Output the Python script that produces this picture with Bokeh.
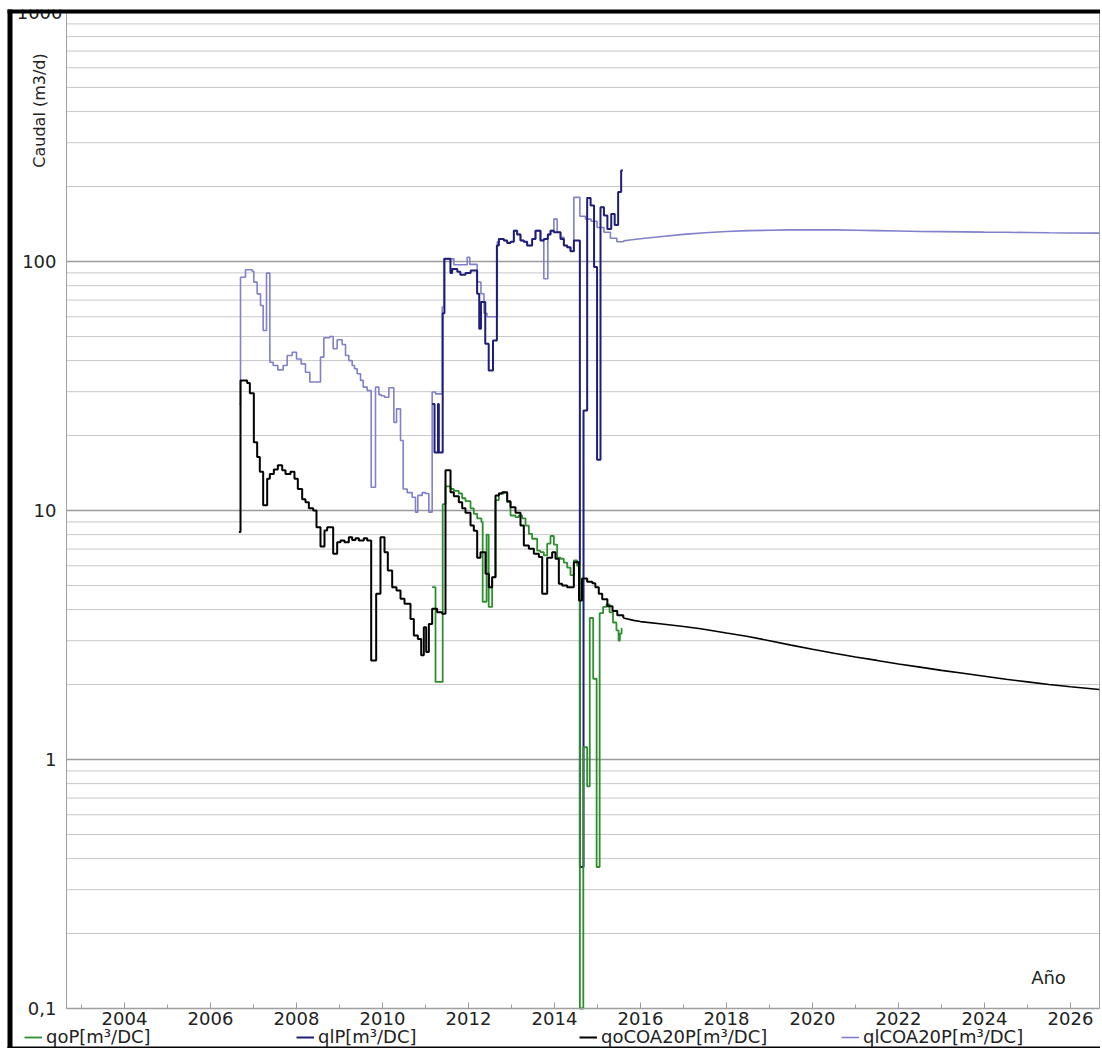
import math
from bokeh.plotting import figure
from bokeh.models import (FixedTicker, Label, Legend, LegendItem, BoxAnnotation,
                          Range1d, CustomJSTickFormatter)
from bokeh.embed import file_html
from bokeh.resources import INLINE

# ---------------- data (year, rate m3/d) ----------------
qlcoa_hist = [
    (2006.670, 26.8), (2006.698, 86.5), (2006.814, 92.6), (2006.969, 91.4), (2007.008, 82.6),
    (2007.085, 74.1), (2007.163, 66.6), (2007.225, 52.8), (2007.303, 89.8), (2007.380, 39.4),
    (2007.458, 38.2), (2007.566, 36.7), (2007.690, 38.2), (2007.783, 41.9), (2007.900, 43.2),
    (2008.000, 40.6), (2008.109, 38.8), (2008.209, 35.9), (2008.310, 32.8), (2008.558, 41.3),
    (2008.636, 49.4), (2008.775, 50.0), (2008.853, 44.6), (2008.946, 48.5), (2009.062, 46.4),
    (2009.140, 41.9), (2009.217, 40.0), (2009.295, 38.2), (2009.349, 37.1), (2009.411, 35.4),
    (2009.489, 33.3), (2009.551, 31.3), (2009.644, 30.3), (2009.737, 12.4), (2009.837, 31.3),
    (2009.915, 29.2), (2009.969, 28.9), (2010.047, 28.5), (2010.148, 31.1), (2010.264, 22.6),
    (2010.326, 25.6), (2010.419, 19.1), (2010.481, 12.2), (2010.574, 11.8), (2010.690, 11.3),
    (2010.768, 9.85), (2010.822, 11.5), (2010.923, 11.8), (2011.000, 11.7), (2011.078, 9.85),
    (2011.155, 29.9), (2011.233, 29.4), (2011.390, 65.6), (2011.430, 102.5), (2011.660, 97.0),
    (2011.970, 104.0), (2012.030, 97.4), (2012.200, 82.7), (2012.290, 74.2), (2012.360, 62.0),
    (2012.430, 60.0), (2012.670, 120.0), (2012.706, 123.0), (2012.822, 121.5), (2012.900, 118.7),
    (2012.977, 120.0), (2013.054, 133.0), (2013.132, 128.5), (2013.209, 121.5), (2013.287, 120.0),
    (2013.364, 116.0), (2013.480, 123.0), (2013.558, 133.0), (2013.674, 121.5), (2013.752, 85.2),
    (2013.845, 128.5), (2013.907, 133.0), (2013.985, 148.0), (2014.062, 131.0), (2014.140, 125.0),
    (2014.217, 116.0), (2014.295, 114.0), (2014.372, 110.0), (2014.450, 181.0), (2014.590, 152.0),
    (2014.720, 148.0), (2014.850, 145.0), (2014.990, 137.0), (2015.150, 131.0), (2015.300, 124.0),
    (2015.450, 120.0), (2015.600, 121.0),
]
qlcoa_forecast = [
    (2015.60, 121.0), (2015.75, 122.0), (2016.0, 123.5), (2016.5, 126.0), (2017.0, 128.5),
    (2017.5, 130.5), (2018.0, 132.0), (2018.5, 133.0), (2019.0, 133.5), (2019.5, 134.0),
    (2020.0, 134.0), (2020.5, 134.0), (2021.0, 133.5), (2021.5, 133.0), (2022.0, 132.5),
    (2022.5, 132.0), (2023.0, 131.8), (2023.5, 131.5), (2024.0, 131.2), (2024.5, 131.0),
    (2025.0, 130.7), (2025.5, 130.4), (2026.0, 130.2), (2026.67, 130.0),
]
qlp_obs = [
    (2011.155, 26.8), (2011.210, 17.1), (2011.290, 26.8), (2011.310, 17.1), (2011.400, 62.0),
    (2011.440, 102.6), (2011.580, 89.9), (2011.620, 93.2), (2011.740, 91.0), (2011.810, 88.4),
    (2011.930, 89.9), (2012.050, 92.0), (2012.200, 74.2), (2012.250, 53.7), (2012.290, 68.7),
    (2012.390, 46.7), (2012.470, 36.5), (2012.570, 48.2), (2012.660, 116.0), (2012.706, 123.0),
    (2012.822, 121.5), (2012.900, 118.7), (2012.977, 120.0), (2013.054, 133.0), (2013.132, 128.5),
    (2013.209, 121.5), (2013.287, 120.0), (2013.364, 116.0), (2013.480, 123.0), (2013.558, 133.0),
    (2013.674, 121.5), (2013.752, 123.0), (2013.845, 128.5), (2013.907, 133.0), (2013.985, 131.0),
    (2014.062, 131.0), (2014.140, 123.0), (2014.217, 116.0), (2014.295, 114.0), (2014.372, 110.0),
    (2014.450, 121.5), (2014.590, 0.37), (2014.675, 25.2), (2014.760, 180.0), (2014.840, 168.0),
    (2014.920, 95.0), (2014.990, 16.0), (2015.070, 165.0), (2015.150, 153.0), (2015.230, 135.0),
    (2015.320, 155.0), (2015.400, 140.0), (2015.480, 190.0), (2015.550, 232.0), (2015.590, 232.0),
]
qocoa_hist = [
    (2006.660, 8.2), (2006.698, 33.3), (2006.853, 32.5), (2006.915, 29.6), (2007.008, 18.8),
    (2007.085, 16.4), (2007.147, 14.3), (2007.225, 10.5), (2007.318, 13.4), (2007.380, 14.0),
    (2007.473, 14.6), (2007.566, 15.2), (2007.667, 14.5), (2007.744, 14.0), (2007.860, 14.3),
    (2007.953, 13.4), (2008.031, 12.2), (2008.132, 11.1), (2008.209, 10.8), (2008.287, 10.2),
    (2008.388, 10.0), (2008.465, 8.57), (2008.558, 7.17), (2008.651, 8.31), (2008.713, 8.57),
    (2008.853, 6.70), (2008.946, 7.46), (2009.023, 7.58), (2009.116, 7.46), (2009.217, 7.80),
    (2009.295, 7.62), (2009.372, 7.74), (2009.450, 7.58), (2009.566, 7.74), (2009.644, 7.58),
    (2009.737, 2.50), (2009.853, 4.63), (2009.953, 7.80), (2010.047, 6.80), (2010.124, 5.74),
    (2010.225, 4.92), (2010.326, 4.77), (2010.419, 4.42), (2010.512, 4.22), (2010.651, 3.67),
    (2010.729, 3.15), (2010.822, 3.05), (2010.900, 2.62), (2010.961, 3.40), (2011.016, 2.70),
    (2011.078, 3.50), (2011.155, 4.03), (2011.271, 3.90), (2011.388, 3.85), (2011.465, 14.5),
    (2011.582, 11.85), (2011.659, 11.4), (2011.775, 10.8), (2011.853, 10.2), (2011.930, 9.8),
    (2012.047, 8.7), (2012.124, 8.3), (2012.202, 6.46), (2012.279, 6.8), (2012.396, 5.57),
    (2012.473, 4.92), (2012.550, 5.4), (2012.628, 11.5), (2012.706, 11.7), (2012.783, 11.85),
    (2012.900, 10.9), (2012.977, 10.3), (2013.093, 9.8), (2013.209, 8.7), (2013.287, 7.23),
    (2013.403, 7.02), (2013.520, 6.7), (2013.636, 6.5), (2013.714, 4.63), (2013.830, 6.46),
    (2013.946, 6.8), (2014.023, 6.4), (2014.101, 5.08), (2014.178, 5.0), (2014.295, 4.92),
    (2014.450, 6.2), (2014.570, 4.35), (2014.640, 5.33), (2014.760, 5.17), (2014.880, 5.1),
    (2014.950, 4.92), (2015.030, 4.63), (2015.110, 4.4), (2015.230, 4.13), (2015.350, 3.95),
    (2015.460, 3.8), (2015.600, 3.7),
]
qocoa_forecast = [
    (2015.60, 3.70), (2015.84, 3.62), (2016.0, 3.58), (2016.5, 3.50), (2017.0, 3.42),
    (2017.4, 3.35), (2018.0, 3.22), (2018.5, 3.12), (2019.0, 3.00), (2019.5, 2.88),
    (2020.0, 2.77), (2020.5, 2.67), (2021.0, 2.58), (2021.5, 2.50), (2022.0, 2.42),
    (2022.5, 2.35), (2023.0, 2.28), (2023.5, 2.22), (2024.0, 2.16), (2024.5, 2.10),
    (2025.0, 2.05), (2025.5, 2.00), (2026.0, 1.96), (2026.67, 1.91),
]
qop_obs = [
    (2011.155, 4.92), (2011.233, 2.05), (2011.400, 10.6), (2011.465, 12.5), (2011.582, 12.2),
    (2011.659, 12.0), (2011.775, 11.7), (2011.853, 11.2), (2011.930, 10.9), (2012.047, 10.2),
    (2012.124, 9.7), (2012.202, 9.3), (2012.300, 9.0), (2012.330, 4.3), (2012.420, 8.0),
    (2012.470, 4.1), (2012.550, 5.4), (2012.628, 11.0), (2012.706, 11.7), (2012.822, 11.8),
    (2012.900, 10.8), (2012.977, 9.55), (2013.093, 9.4), (2013.170, 9.55), (2013.248, 9.3),
    (2013.326, 8.7), (2013.403, 8.06), (2013.480, 7.7), (2013.597, 6.9), (2013.674, 6.8),
    (2013.752, 6.6), (2013.830, 7.36), (2013.907, 7.9), (2013.985, 7.3), (2014.062, 6.46),
    (2014.140, 6.4), (2014.217, 6.17), (2014.295, 5.9), (2014.372, 5.5), (2014.450, 6.3),
    (2014.527, 6.0), (2014.590, 0.1), (2014.670, 1.12), (2014.760, 0.78), (2014.820, 3.7),
    (2014.900, 2.11), (2014.980, 0.37), (2015.050, 3.87), (2015.130, 4.1), (2015.210, 4.2),
    (2015.280, 3.9), (2015.360, 3.55), (2015.440, 3.3), (2015.490, 3.0), (2015.520, 3.2),
    (2015.560, 3.35), (2015.580, 3.35),
]

x_ticks_major = list(range(2004, 2027, 2))
x_ticks_minor = list(range(2003, 2027, 2))
y_ticks_labelled = [0.1, 1, 10, 100]
y_grid_major = [0.1, 1, 10, 100, 1000]
y_grid_minor = [round(k * 10.0 ** e, 6) for e in range(-1, 3) for k in range(2, 10)]

series_labels = ["qoP[m³/DC]", "qlP[m³/DC]", "qoCOA20P[m³/DC]", "qlCOA20P[m³/DC]"]

# plot-area extent (data units)
X_LEFT, X_RIGHT = 2002.6512, 2026.6744
Y_LOW, Y_HIGH = 0.1, 1000.0

GREEN = "#2f8f2f"
NAVY = "#1e1e78"
LAV = "#8080cc"
BLACK = "#000000"
FONT = "DejaVu Sans"
TXT = "#222222"


def xs(pairs):
    return [a for a, _ in pairs]


def ys(pairs):
    return [b for _, b in pairs]


W, H = 1100, 1048
p = figure(width=W, height=H, x_range=Range1d(2001.1163, 2026.6977),
           y_range=Range1d(0.069085, 1117.3), y_axis_type="log",
           output_backend="svg", toolbar_location=None,
           min_border=0, min_border_left=0, min_border_right=0,
           min_border_top=0, min_border_bottom=0)
p.background_fill_color = "white"
p.border_fill_color = "white"
p.outline_line_color = None
p.xgrid.visible = False
p.ygrid.visible = False

# ---- axes drawn inside the canvas at the plot-area edges ----
xa = p.xaxis[0]
xa.fixed_location = Y_LOW
xa.bounds = (X_LEFT, X_RIGHT)
xa.ticker = FixedTicker(ticks=x_ticks_major, minor_ticks=x_ticks_minor)
xa.major_tick_in = 6
xa.major_tick_out = 0
xa.minor_tick_in = 4
xa.minor_tick_out = 0
xa.major_tick_line_color = "#9a9a9a"
xa.minor_tick_line_color = "#9a9a9a"
xa.axis_line_color = "#a0a0a0"
xa.major_label_text_font = FONT
xa.major_label_text_font_size = "18px"
xa.major_label_text_color = TXT
xa.major_label_standoff = 3

ya = p.yaxis[0]
ya.fixed_location = X_LEFT
ya.bounds = (Y_LOW, Y_HIGH)
ya.ticker = FixedTicker(ticks=y_ticks_labelled, minor_ticks=[])
ya.formatter = CustomJSTickFormatter(
    code="return tick < 1 ? String(Math.round(tick*10)/10).replace('.', ',') : String(Math.round(tick));")
ya.major_tick_line_color = None
ya.minor_tick_line_color = None
ya.axis_line_color = "#a0a0a0"
ya.major_label_text_font = FONT
ya.major_label_text_font_size = "18px"
ya.major_label_text_color = TXT
ya.major_label_standoff = 4

# ---- horizontal grid lines limited to the plot area ----
p.segment(x0=[X_LEFT] * len(y_grid_minor), x1=[X_RIGHT] * len(y_grid_minor),
          y0=y_grid_minor, y1=y_grid_minor, line_color="#c8c8c8", line_width=1)
p.segment(x0=[X_LEFT] * len(y_grid_major), x1=[X_RIGHT] * len(y_grid_major),
          y0=y_grid_major, y1=y_grid_major, line_color="#9c9c9c", line_width=1.3)
p.segment(x0=[X_RIGHT], x1=[X_RIGHT], y0=[Y_LOW], y1=[Y_HIGH], line_color="#a0a0a0", line_width=1)

# ---- series ----
r_qlcoa = p.step(xs(qlcoa_hist), ys(qlcoa_hist), mode="after", line_color=LAV, line_width=1.6)
p.line(xs(qlcoa_forecast), ys(qlcoa_forecast), line_color=LAV, line_width=1.6)
r_qlp = p.step(xs(qlp_obs), ys(qlp_obs), mode="after", line_color=NAVY, line_width=2)
r_qop = p.step(xs(qop_obs), ys(qop_obs), mode="after", line_color=GREEN, line_width=1.8)
r_qocoa = p.step(xs(qocoa_hist), ys(qocoa_hist), mode="after", line_color=BLACK, line_width=2)
p.line(xs(qocoa_forecast), ys(qocoa_forecast), line_color=BLACK, line_width=1.6)

# ---- legend entries along the bottom edge ----
legend_x = [24, 296, 579, 841]
for lab, rend, lx in zip(series_labels, [r_qop, r_qlp, r_qocoa, r_qlcoa], legend_x):
    leg = Legend(items=[LegendItem(label=lab, renderers=[rend])], location=(lx, 1),
                 orientation="horizontal", padding=0, margin=0, spacing=0,
                 border_line_color=None, background_fill_alpha=0,
                 label_text_font=FONT, label_text_font_size="18px",
                 label_text_color=TXT, glyph_width=18, glyph_height=16,
                 label_height=16, label_standoff=4)
    p.add_layout(leg)

# ---- texts ----
p.add_layout(Label(x=2002.5581, y=Y_HIGH, text="1000", text_align="right",
                   text_baseline="middle", text_font=FONT, text_font_size="18px",
                   text_color=TXT, level="annotation"))
p.add_layout(Label(x=2002.0233, y=404.1, text="Caudal (m3/d)", angle=math.pi / 2,
                   text_align="center", text_baseline="middle", text_font=FONT,
                   text_font_size="16px", text_color=TXT))
p.add_layout(Label(x=2025.4884, y=0.13316, text="Año", text_align="center",
                   text_baseline="middle", text_font=FONT, text_font_size="18px",
                   text_color=TXT))

# ---- outer frame: white strip above, black bars left / top / bottom ----
p.add_layout(BoxAnnotation(bottom=1028.1, fill_color="white", fill_alpha=1.0,
                           line_color=None, level="overlay"))
p.add_layout(BoxAnnotation(left=2001.2791, bottom=990.8, top=1028.1, fill_color="black",
                           fill_alpha=1.0, line_color=None, level="overlay"))
p.add_layout(BoxAnnotation(left=2001.2791, right=2001.3953, top=1028.1, fill_color="black",
                           fill_alpha=1.0, line_color=None, level="overlay"))
p.add_layout(BoxAnnotation(left=2001.2791, top=0.07036, fill_color="black",
                           fill_alpha=1.0, line_color=None, level="overlay"))

open("out.html", "w").write(file_html(p, INLINE))
